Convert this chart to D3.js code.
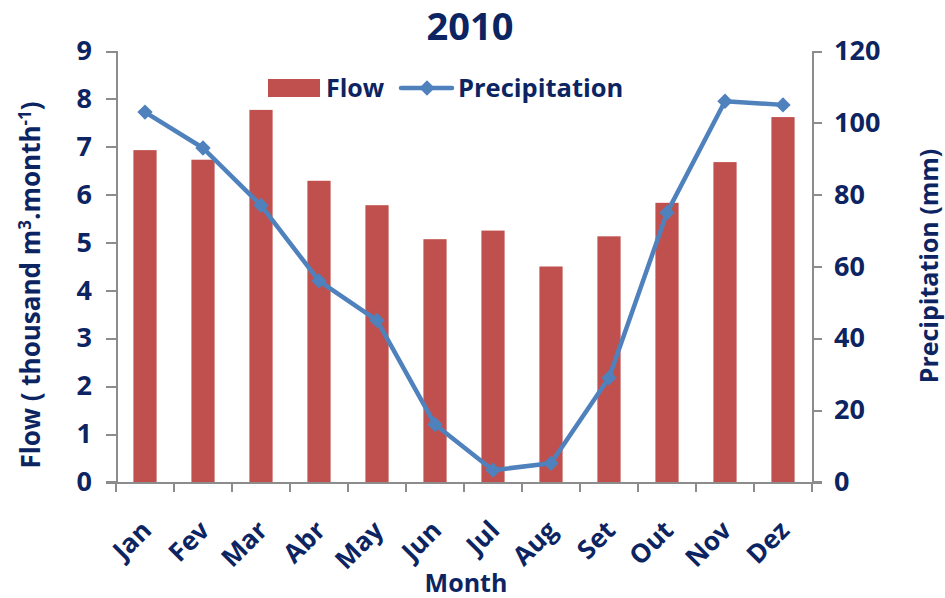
<!DOCTYPE html>
<meta charset="utf-8">
<style>
body { margin: 0; background: #fff; }
svg text { font-family: "Open Sans", sans-serif; font-weight: bold; fill: #0c2461; }
.axis path, .axis line { fill: none; stroke: #8c8c8c; stroke-width: 2px; shape-rendering: crispEdges; }
</style>
<body>
<div id="chart"></div>
<script src="https://cdn.jsdelivr.net/npm/d3@7"></script>
<script>
var months = ["Jan","Fev","Mar","Abr","May","Jun","Jul","Aug","Set","Out","Nov","Dez"];
var flow = [6.93, 6.73, 7.77, 6.29, 5.78, 5.07, 5.25, 4.50, 5.13, 5.83, 6.68, 7.62];
var precip = [103, 93, 77, 56, 45, 16, 3.3, 5.2, 29, 75, 106, 105];
var flowTicks = [0,1,2,3,4,5,6,7,8,9];
var precipTicks = [0,20,40,60,80,100,120];

var W = 945, H = 598,
  margin = {top: 51, right: 133, bottom: 116, left: 116},
  width = W - margin.left - margin.right,
  height = H - margin.top - margin.bottom;

var svg = d3.select("#chart").append("svg").attr("width", W).attr("height", H);
var g = svg.append("g").attr("transform", "translate(" + margin.left + "," + margin.top + ")");

var x = d3.scaleBand().domain(months).range([0, width]);
var yL = d3.scaleLinear().domain([0, 9]).range([height, 0]);
var yR = d3.scaleLinear().domain([0, 120]).range([height, 0]);

// bars
var bw = x.bandwidth() * 0.4;
g.selectAll(".bar").data(flow).enter().append("rect")
  .attr("x", function(d, i) { return x(months[i]) + x.bandwidth() / 2 - bw / 2; })
  .attr("y", function(d) { return yL(d); })
  .attr("width", bw)
  .attr("height", function(d) { return height - yL(d); })
  .attr("fill", "#c0504d");

// axes
var axL = g.append("g").attr("class", "axis")
  .call(d3.axisLeft(yL).tickValues(flowTicks).tickSizeOuter(0).tickSize(10).tickPadding(14));
var axR = g.append("g").attr("class", "axis").attr("transform", "translate(" + width + ",0)")
  .call(d3.axisRight(yR).tickValues(precipTicks).tickSizeOuter(0).tickSize(10).tickPadding(12));
var axB = g.append("g").attr("class", "axis").attr("transform", "translate(0," + height + ")")
  .call(d3.axisBottom(x).tickSize(0).tickFormat(""));
axB.selectAll(".tk").data(d3.range(months.length + 1)).enter().append("line")
  .attr("x1", function(d) { return d * x.step(); })
  .attr("x2", function(d) { return d * x.step(); })
  .attr("y1", 0).attr("y2", 10);
axB.append("line").attr("x1", -10).attr("x2", 0).attr("y1", 0).attr("y2", 0);
axB.append("line").attr("x1", width).attr("x2", width + 10).attr("y1", 0).attr("y2", 0);

[axL, axR].forEach(function(a) {
  a.selectAll("text").style("font-size", "27px").attr("fill", null);
});

// month labels
g.selectAll(".mlab").data(months).enter().append("text")
  .attr("transform", function(d) {
    return "translate(" + (x(d) + x.bandwidth() / 2 + 8) + "," + (height + 50) + ") rotate(-45)";
  })
  .attr("text-anchor", "end")
  .style("font-size", "26px")
  .text(function(d) { return d; });

// line
var line = d3.line()
  .x(function(d, i) { return x(months[i]) + x.bandwidth() / 2; })
  .y(function(d) { return yR(d); });
g.append("path").datum(precip).attr("d", line)
  .attr("fill", "none").attr("stroke", "#4f81bd").attr("stroke-width", 4.5)
  .attr("stroke-linejoin", "round");
var diamond = d3.symbol().type(d3.symbolDiamond2).size(150);
g.selectAll(".pt").data(precip).enter().append("path")
  .attr("d", diamond)
  .attr("transform", function(d, i) {
    return "translate(" + (x(months[i]) + x.bandwidth() / 2) + "," + yR(d) + ")";
  })
  .attr("fill", "#4f81bd");

// title
svg.append("text").attr("x", 470).attr("y", 40).attr("text-anchor", "middle")
  .style("font-size", "38px").text("2010");

// legend
var lg = svg.append("g");
lg.append("rect").attr("x", 268).attr("y", 79).attr("width", 52).attr("height", 18).attr("fill", "#c0504d");
lg.append("text").attr("x", 326).attr("y", 97).style("font-size", "25px").text("Flow");
lg.append("line").attr("x1", 401).attr("x2", 452).attr("y1", 88).attr("y2", 88)
  .attr("stroke", "#4f81bd").attr("stroke-width", 4.5).attr("stroke-linecap", "round");
lg.append("path").attr("d", diamond).attr("transform", "translate(427,88)").attr("fill", "#4f81bd");
lg.append("text").attr("x", 458).attr("y", 97).style("font-size", "25.5px").text("Precipitation");

// axis titles
var lt = svg.append("text").attr("transform", "translate(40,285) rotate(-90)")
  .attr("text-anchor", "middle").style("font-size", "26px");
lt.append("tspan").text("Flow ( thousand m");
lt.append("tspan").attr("dy", -9).style("font-size", "17px").text("3");
lt.append("tspan").attr("dy", 9).text(".month");
lt.append("tspan").attr("dy", -9).style("font-size", "17px").text("-1");
lt.append("tspan").attr("dy", 9).text(")");

svg.append("text").attr("transform", "translate(938,266) rotate(-90)")
  .attr("text-anchor", "middle").style("font-size", "25px").text("Precipitation (mm)");

svg.append("text").attr("x", 466).attr("y", 592).attr("text-anchor", "middle")
  .style("font-size", "25px").text("Month");
</script>
</body>
